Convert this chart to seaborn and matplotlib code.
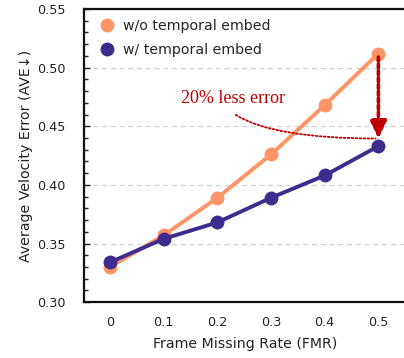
import pandas as pd
import numpy as np
import seaborn as sns
import matplotlib.pyplot as plt
from matplotlib.ticker import MultipleLocator
from matplotlib.patches import FancyArrowPatch

###DATA###
fmr = [0, 0.1, 0.2, 0.3, 0.4, 0.5]
wo_embed = [0.330, 0.357, 0.389, 0.426, 0.468, 0.512]
w_embed = [0.334, 0.354, 0.368, 0.389, 0.408, 0.433]
series_names = ['w/o temporal embed', 'w/ temporal embed']
colors = ['#FF9466', '#3D2C8D']

df = pd.DataFrame({
    'FMR': fmr * 2,
    'AVE': wo_embed + w_embed,
    'model': [series_names[0]] * len(fmr) + [series_names[1]] * len(fmr),
})

###SETUP###
sns.set_style('ticks')
plt.rcParams['font.family'] = ['DejaVu Sans']

fig = plt.figure(figsize=(4.04, 3.58), dpi=100)
# right spine sits just past the image edge, like in the original crop
ax = fig.add_axes([0.208, 0.156, 0.797, 0.819])

ax.yaxis.grid(True, linestyle=(0, (4, 3)), color='#d0d0d0', linewidth=0.9)
ax.set_axisbelow(True)

sns.lineplot(data=df, x='FMR', y='AVE', hue='model', palette=colors,
             marker='o', markersize=10, markeredgewidth=0, linewidth=2.8,
             ax=ax, zorder=3)

ax.set_xlim(-0.0485, 0.5515)
ax.set_ylim(0.30, 0.55)
ax.set_xticks(fmr)
ax.set_xticklabels(['0', '0.1', '0.2', '0.3', '0.4', '0.5'])
ax.yaxis.set_major_locator(MultipleLocator(0.05))
ax.yaxis.set_minor_locator(MultipleLocator(0.01))
ax.yaxis.set_major_formatter(plt.FormatStrFormatter('%.2f'))
ax.tick_params(axis='y', which='major', direction='in', length=4, width=1,
               pad=13, labelsize=9.2, colors='#222222')
ax.tick_params(axis='y', which='minor', direction='in', length=3, width=1)
ax.tick_params(axis='x', length=0, pad=10, labelsize=9.2, labelcolor='#222222')
for s in ax.spines.values():
    s.set_linewidth(1.6)
    s.set_color('#111111')

ax.set_xlabel('Frame Missing Rate (FMR)', fontsize=10.2, labelpad=6, color='#222222')
ax.set_ylabel('Average Velocity Error (AVE\u2193)', fontsize=10.2, labelpad=3, color='#222222')

leg = ax.legend(loc='upper left', bbox_to_anchor=(0.028, 1.0), frameon=False,
                fontsize=10.2, handlelength=0.6, handletextpad=0.8,
                borderaxespad=0.3, labelspacing=0.7)
for h in leg.legend_handles:
    h.set_linestyle('')
    h.set_markersize(10)

###ANNOTATION###
ax.annotate('', xy=(0.5, 0.4395), xytext=(0.5, 0.509),
            arrowprops=dict(arrowstyle='-|>,head_length=1.05,head_width=0.5',
                            mutation_scale=10, color='#C00000',
                            linestyle=(0, (1.1, 0.8)), linewidth=2.6,
                            shrinkA=0, shrinkB=0), zorder=4)
curve = FancyArrowPatch((0.23, 0.461), (0.5, 0.4395),
                        connectionstyle='angle3,angleA=-35,angleB=0', arrowstyle='-',
                        color='#C00000', linestyle=(0, (1, 1.2)), linewidth=1.3,
                        zorder=4)
ax.add_patch(curve)
ax.text(0.23, 0.474, '20% less error', color='#C00000', fontsize=13,
        family=['Liberation Serif'], ha='center', va='center')

plt.savefig('out.png', dpi=100)
